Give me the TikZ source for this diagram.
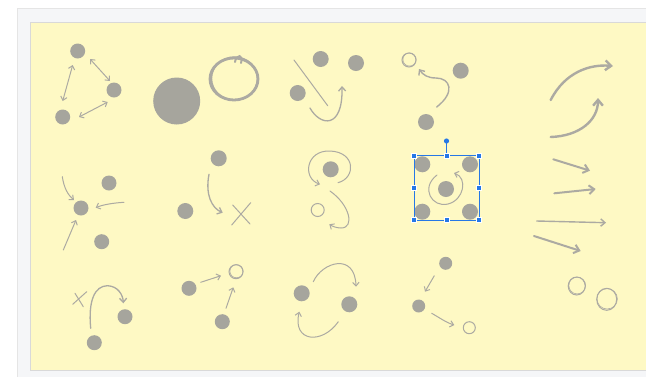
\documentclass[tikz,border=0pt]{standalone}
\usepackage{xcolor}
\usepackage{tikz}
\usetikzlibrary{arrows.meta}

\definecolor{paper}{RGB}{254,249,196}
\definecolor{panel}{RGB}{245,246,248}
\definecolor{ink}{RGB}{166,165,157}
\definecolor{pen}{RGB}{172,170,162}
\definecolor{selblue}{RGB}{38,120,230}

\tikzset{
  dot/.style={circle,fill=ink,inner sep=0pt,minimum size=15pt},
  bigdot/.style={circle,fill=ink,inner sep=0pt,minimum size=16pt},
  thin pen/.style={draw=pen,line width=1pt,line cap=round},
  thick pen/.style={draw=pen,line width=2.4pt,line cap=round},
  handle/.style={fill=selblue,draw=white,line width=0.4pt,minimum size=5pt,inner sep=0pt}
}

\begin{document}
\begin{tikzpicture}[x=1pt,y=-1pt,>={Straight Barb[length=2pt 1.6,width=4pt 2.4]}]
  \useasboundingbox (0,0) rectangle (646,376);
  % frame and sticky note
  \fill[white] (0,0) rectangle (646,376);
  \fill[panel,draw=black!10] (17,8) rectangle (660,390);
  \fill[paper,draw=black!15] (30,22) rectangle (660,370);

  % top row
  \node[dot] (t1) at (77.7,51) {};
  \node[dot] (t2) at (114,90) {};
  \node[dot] (t3) at (62.7,117) {};
  \draw[thin pen,<->] (72.7,65) -- (62.7,101);
  \draw[thin pen,<->] (90,59) -- (110,81);
  \draw[thin pen,<->] (79,117) -- (107.7,102);
  \fill[ink] (176.7,101) circle (23.5);
  \draw[pen,line width=2.8pt] (234,79) ellipse (24 and 21);
  \draw[pen,line width=1.4pt] (234.5,78.5) ellipse (23 and 21.5);
  \draw[pen,line width=2pt,line cap=round] (235,62) .. controls (236,54) and (244,54) .. (241,63);
  \node[bigdot] (t4) at (320.7,59) {};
  \node[bigdot] (t5) at (356,63) {};
  \node[bigdot] (t6) at (297.7,93) {};
  \draw[thin pen] (294,60) -- (327.7,105.7);
  \draw[thin pen,line width=1.3pt,->] (310,108) .. controls (320,126) and (343,130) .. (342,86);
  \draw[thin pen] (409,60) circle (7);
  \draw[thin pen,line width=0.6pt] (409.5,59.5) circle (6.6);
  \node[bigdot] (t7) at (460.7,70.7) {};
  \node[bigdot] (t8) at (426,122) {};
  \draw[thin pen,line width=1.4pt,->] (436.7,107) .. controls (456,92) and (450,78) .. (436,78)
    .. controls (428,78) and (423,75) .. (419,69);
  \draw[thick pen,->] (550.7,100) .. controls (565,72) and (590,64) .. (613,66);
  \draw[thick pen,->] (550.7,137) .. controls (580,136) and (598,120) .. (598,98);

  % middle row
  \node[dot] (m1) at (81,208) {};
  \node[dot] (m2) at (109,183) {};
  \node[dot] (m3) at (101.7,241.7) {};
  \draw[thin pen,->] (62.3,176.7) .. controls (64,188) and (68,195) .. (74,200);
  \draw[thin pen,->] (124,202.3) .. controls (112,203) and (102,205) .. (95.7,207.7);
  \draw[thin pen,->] (63.3,250) -- (76,220);
  \node[bigdot] (m4) at (218.7,158.3) {};
  \node[bigdot] (m5) at (185.3,211) {};
  \draw[thin pen,line width=1.3pt,->] (209,174.3) .. controls (205,195) and (212,208) .. (222.7,212.7);
  \draw[thin pen] (231.7,225) -- (250.7,202.7);
  \draw[thin pen] (232.7,205) -- (250,224);
  \node[bigdot] (m6) at (330.7,169.3) {};
  \draw[thin pen,->] (338,182.7) .. controls (356,178) and (356,152) .. (330,151)
    .. controls (306,150) and (302,178) .. (320,184.3);
  \draw[thin pen] (317.7,210) circle (6.5);
  \draw[thin pen,->] (330,191) .. controls (350,205) and (355,228) .. (341,228)
    .. controls (336,228) and (332,226) .. (329.3,224.3);
  \node[bigdot] (m7) at (422.3,164.3) {};
  \node[bigdot] (m8) at (470,164.3) {};
  \node[bigdot] (m9) at (422.3,211.7) {};
  \node[bigdot] (m10) at (470,211.7) {};
  \node[bigdot] (m11) at (446,189) {};
  \draw[thin pen,->] (437,175) .. controls (420,188) and (432,208) .. (448,204)
    .. controls (464,200) and (468,178) .. (454,173);
  \draw[thick pen,line width=2pt,->] (553.3,159.3) -- (590,170.7);
  \draw[thick pen,line width=2pt,->] (554.3,193.3) -- (595.7,189);
  \draw[thin pen,line width=1.4pt,->] (536.7,221) -- (606,222.7);
  \draw[thick pen,line width=2pt,->] (534,236) -- (580.7,251);

  % selection box
  \draw[selblue,line width=0.8pt] (414,155.7) rectangle (479,220);
  \draw[selblue,line width=0.8pt] (446.5,155.7) -- (446.5,141);
  \fill[selblue] (446.5,141) circle (2.6);
  \foreach \sx/\sy in {414/155.7,446.5/155.7,479/155.7,414/188,479/188,414/220,446.5/220,479/220}
    \node[handle] at (\sx,\sy) {};

  % bottom row
  \draw[thin pen] (72.7,304.3) -- (86.7,291.7);
  \draw[thin pen] (75,293.3) -- (83.3,306.7);
  \node[dot] (b1) at (125,316.7) {};
  \node[dot] (b2) at (94.3,342.7) {};
  \draw[thin pen,line width=1.3pt,->] (90.7,328.3) .. controls (88,300) and (95,286) .. (107.3,285.7)
    .. controls (118,286) and (123,295) .. (123.3,303.3);
  \node[dot] (b3) at (189,288.3) {};
  \node[dot] (b4) at (222.3,321.7) {};
  \draw[thin pen] (236,271.7) circle (7);
  \draw[thin pen,line width=0.6pt] (236.5,271.2) circle (6.6);
  \draw[thin pen,->] (200.7,282.3) -- (221,275.7);
  \draw[thin pen,->] (226,308.3) -- (233.3,287.3);
  \node[bigdot] (b5) at (301.7,293.3) {};
  \node[bigdot] (b6) at (349.3,304.3) {};
  \draw[thin pen,->] (313.3,281.7) .. controls (322,262) and (355,252) .. (356,286.7);
  \draw[thin pen,->] (338.3,321.7) .. controls (322,345) and (292,342) .. (299.3,311.7);
  \node[dot,minimum size=13pt] (b7) at (445.7,263.3) {};
  \node[dot,minimum size=13pt] (b8) at (418.7,306) {};
  \draw[thin pen,->] (434.3,275.7) -- (425,291.7);
  \draw[thin pen,->] (431.7,313.3) .. controls (440,318) and (447,323) .. (454.3,325);
  \draw[thin pen] (469.3,327.7) circle (6);
  \draw[thin pen] (576.7,286) ellipse (8.5 and 9);
  \draw[thin pen,line width=0.6pt] (577.2,285.5) circle (8.4);
  \draw[thin pen] (606.7,299.3) ellipse (10 and 11);
  \draw[thin pen,line width=0.6pt] (607.2,298.8) circle (10.2);
\end{tikzpicture}
\end{document}
